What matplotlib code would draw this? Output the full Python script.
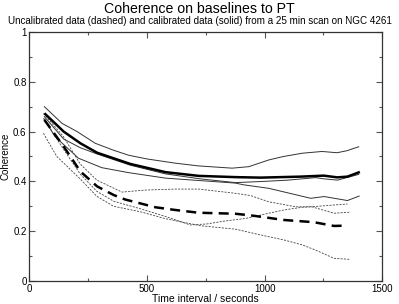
import matplotlib
matplotlib.use("Agg")
import matplotlib.pyplot as plt
from matplotlib.ticker import MultipleLocator

plt.rcParams['font.family'] = ['Liberation Sans', 'DejaVu Sans']

# Calibrated (solid) curves
s_top_x = [64, 139, 203, 280, 358, 422, 500, 621, 720, 862, 933, 1018, 1081, 1160, 1244, 1308, 1350, 1400]
s_top_y = [0.70, 0.633, 0.60, 0.553, 0.525, 0.505, 0.49, 0.473, 0.462, 0.453, 0.459, 0.486, 0.50, 0.513, 0.52, 0.515, 0.523, 0.539]

s_mid_x = [64, 146, 217, 288, 429, 579, 727, 876, 1000, 1100, 1217, 1253, 1310, 1400]
s_mid_y = [0.66, 0.57, 0.535, 0.51, 0.465, 0.43, 0.41, 0.395, 0.40, 0.405, 0.415, 0.41, 0.405, 0.428]

s_low_x = [64, 109, 209, 308, 422, 579, 727, 876, 912, 1018, 1196, 1253, 1352, 1402]
s_low_y = [0.65, 0.58, 0.493, 0.455, 0.435, 0.413, 0.403, 0.393, 0.386, 0.372, 0.332, 0.339, 0.323, 0.341]

s_mean_x = [68, 146, 217, 288, 429, 579, 720, 876, 983, 1153, 1251, 1309, 1352, 1400]
s_mean_y = [0.67, 0.60, 0.553, 0.515, 0.47, 0.437, 0.422, 0.417, 0.415, 0.419, 0.423, 0.416, 0.419, 0.436]

# Uncalibrated (dashed) curves
d_a_x = [60, 145, 216, 287, 394, 493, 621, 720, 876, 940, 1018, 1132, 1200, 1295, 1352]
d_a_y = [0.673, 0.58, 0.47, 0.405, 0.357, 0.365, 0.369, 0.369, 0.352, 0.343, 0.318, 0.298, 0.298, 0.305, 0.309]

d_b_x = [60, 145, 216, 287, 359, 472, 579, 684, 755, 826, 919, 1018, 1081, 1160, 1200, 1295, 1360]
d_b_y = [0.653, 0.53, 0.43, 0.36, 0.32, 0.29, 0.259, 0.225, 0.229, 0.24, 0.251, 0.272, 0.285, 0.296, 0.298, 0.272, 0.276]

d_c_x = [60, 117, 216, 287, 358, 472, 579, 727, 876, 983, 1081, 1160, 1217, 1295, 1360]
d_c_y = [0.593, 0.50, 0.41, 0.34, 0.30, 0.278, 0.25, 0.222, 0.208, 0.185, 0.165, 0.145, 0.124, 0.091, 0.087]

d_mean_x = [64, 146, 217, 288, 359, 408, 536, 621, 720, 876, 953, 1081, 1210, 1295, 1338]
d_mean_y = [0.647, 0.54, 0.44, 0.38, 0.345, 0.327, 0.296, 0.285, 0.274, 0.27, 0.262, 0.245, 0.236, 0.221, 0.222]

y_tick_labels = ['0', '0.2', '0.4', '0.6', '0.8', '1']

fig = plt.figure(figsize=(3.99, 3.04), dpi=100)
ax = fig.add_axes([0.0734, 0.0757, 0.8846, 0.8193])

thin = dict(color='#333333', lw=0.7)
for xs, ys in [(s_top_x, s_top_y), (s_mid_x, s_mid_y), (s_low_x, s_low_y)]:
    ax.plot(xs, ys, ls='-', **thin)
for xs, ys in [(d_a_x, d_a_y), (d_b_x, d_b_y), (d_c_x, d_c_y)]:
    ax.plot(xs, ys, ls=(0, (2.5, 1.5)), color='#444444', lw=0.6)
ax.plot(s_mean_x, s_mean_y, color='black', lw=1.8)
ax.plot(d_mean_x, d_mean_y, color='black', lw=1.8, ls=(0, (4, 2.5)))

ax.set_xlim(0, 1500)
ax.set_ylim(0, 1)
ax.xaxis.set_major_locator(MultipleLocator(500))
ax.xaxis.set_minor_locator(MultipleLocator(250))
ax.yaxis.set_minor_locator(MultipleLocator(0.1))
ax.set_yticks([0, 0.2, 0.4, 0.6, 0.8, 1])
ax.set_yticklabels(y_tick_labels)
ax.tick_params(which='both', direction='in', top=True, right=True, labelsize=7, pad=2, width=0.8, color='#555555')
ax.tick_params(which='major', length=4.5)
ax.tick_params(which='minor', length=2.5)
for sp in ax.spines.values():
    sp.set_linewidth(0.9)
    sp.set_color('#333333')

ax.set_xlabel('Time interval / seconds', fontsize=7.5, labelpad=0)
ax.set_ylabel('Coherence', fontsize=7, labelpad=2)
fig.text(0.5, 0.972, 'Coherence on baselines to PT', ha='center', va='center', fontsize=10.2)
fig.text(0.5, 0.93, 'Uncalibrated data (dashed) and calibrated data (solid) from a 25 min scan on NGC 4261',
         ha='center', va='center', fontsize=7.1)

fig.savefig('out.png', dpi=100)
